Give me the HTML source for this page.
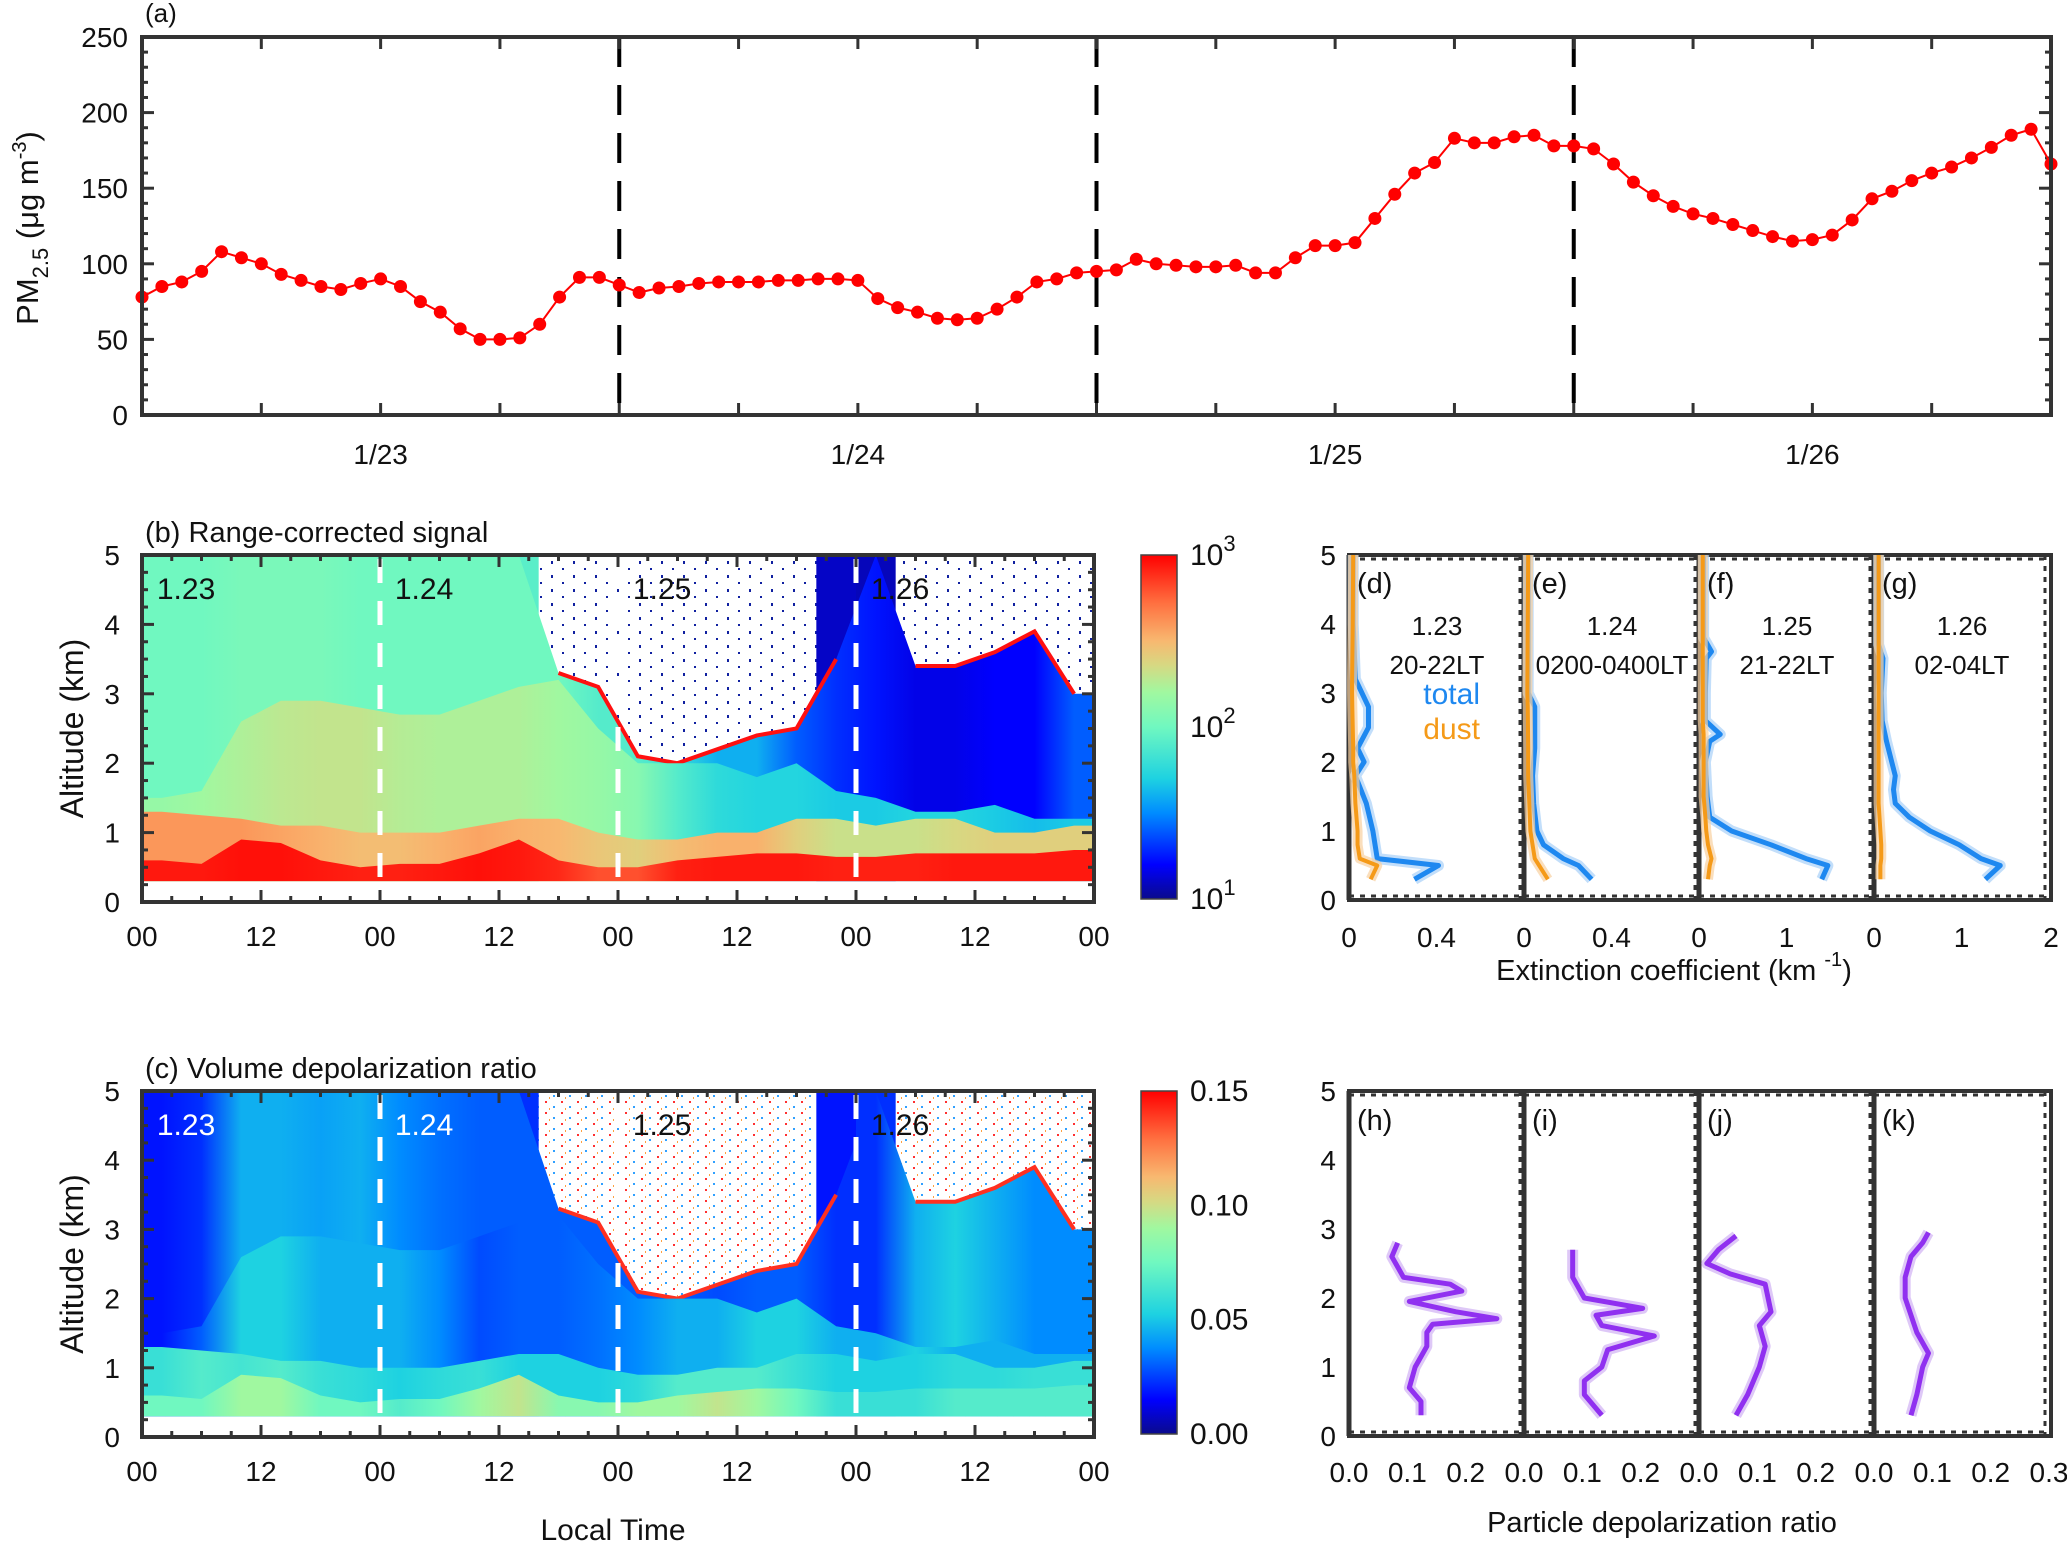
<!DOCTYPE html>
<html><head><meta charset="utf-8">
<style>
html,body{margin:0;padding:0;background:#fff;}
svg{display:block;font-family:"Liberation Sans","DejaVu Sans",sans-serif;}
</style></head>
<body>
<svg id="fig" xmlns="http://www.w3.org/2000/svg" width="2067" height="1544" viewBox="0 0 2067 1544">
<defs>
<pattern id="noiseB" width="22" height="14" patternUnits="userSpaceOnUse">
<rect width="22" height="14" fill="#fff"/>
<rect x="1" y="1" width="2" height="3" fill="#1020a0"/><rect x="12" y="8" width="2" height="2" fill="#1020a0"/>
</pattern>
<pattern id="noiseC" width="16" height="11" patternUnits="userSpaceOnUse">
<rect width="16" height="11" fill="#fff"/>
<rect x="1" y="1" width="2" height="2" fill="#ff3030"/><rect x="9" y="6" width="2" height="2" fill="#30a0ff"/><rect x="5" y="8" width="1" height="2" fill="#ffa040"/>
</pattern>
</defs>
<g id="root"></g>
</svg>
<script>
// ---------------- Panel (a) data ----------------
const pmHours = Array.from({length:97},(_,i)=>i);
const pmValues = [78,85,88,95,108,104,100,93,89,85,83,87,90,85,75,68,57,50,50,51,60,78,91,91,
86,81,84,85,87,88,88,88,89,89,90,90,89,77,71,68,64,63,64,70,78,88,90,94,
95,96,103,100,99,98,98,99,94,94,104,112,112,114,130,146,160,167,183,180,180,184,185,178,
178,176,166,154,145,138,133,130,126,122,118,115,116,119,129,143,148,155,160,164,170,177,185,189,166];
const pmYTicks = [0,50,100,150,200,250];
const dayLabels = ["1/23","1/24","1/25","1/26"];
// ---------------- Panels (b),(c) lidar column data (4-h column centres) ----------------
const colHours = [2,6,10,14,18,22,26,30,34,38,42,46,50,54,58,62,66,70,74,78,82,86,90,94];
const cloudBase = [5,5,5,5,5,5,5,5,5,5,3.3,3.1,2.1,2.0,2.2,2.4,2.5,3.5,5,3.4,3.4,3.6,3.9,3.0];
const aerTop = [1.5,1.6,2.6,2.9,2.9,2.8,2.7,2.7,2.9,3.1,3.2,2.5,2.0,2.0,2.0,1.8,2.0,1.6,1.5,1.3,1.3,1.4,1.2,1.2];
const blTop = [1.3,1.25,1.2,1.1,1.1,1.0,1.0,1.0,1.1,1.2,1.2,1.0,0.9,0.9,1.0,1.0,1.2,1.2,1.1,1.2,1.2,1.0,1.0,1.1];
const redTop = [0.6,0.55,0.9,0.85,0.6,0.5,0.55,0.55,0.7,0.9,0.6,0.5,0.5,0.6,0.65,0.7,0.7,0.65,0.65,0.7,0.7,0.7,0.7,0.75];
// signal (normalised log scale 0..1); -1 = no data (white)
const sigAbove = [0.48,0.48,0.5,0.5,0.48,0.48,0.5,0.5,0.48,0.46,-1,-1,-1,-1,-1,-1,-1,0.05,0.04,-1,-1,-1,-1,-1];
const sigMid = [0.5,0.5,0.52,0.52,0.52,0.5,0.5,0.5,0.5,0.5,0.5,0.45,0.45,0.4,0.3,0.3,0.2,0.15,0.12,0.08,0.08,0.1,0.1,0.2];
const sigAer = [0.58,0.6,0.62,0.64,0.65,0.65,0.63,0.62,0.62,0.62,0.6,0.58,0.55,0.45,0.38,0.36,0.36,0.34,0.34,0.36,0.36,0.34,0.32,0.34];
const sigBl = [0.8,0.8,0.8,0.78,0.76,0.74,0.74,0.76,0.78,0.76,0.75,0.72,0.7,0.74,0.76,0.76,0.7,0.66,0.66,0.66,0.68,0.7,0.7,0.7];
const sigRed = [0.97,0.97,0.98,0.98,0.97,0.96,0.96,0.97,0.98,0.97,0.95,0.9,0.9,0.96,0.97,0.97,0.97,0.96,0.96,0.96,0.97,0.97,0.97,0.97];
// depolarisation (normalised 0..0.15 -> 0..1)
const depAbove = [0.1,0.1,0.12,0.12,0.12,0.12,0.12,0.12,0.14,0.15,-1,-1,-1,-1,-1,-1,-1,0.12,0.15,-1,-1,-1,-1,-1];
const depMid = [0.12,0.15,0.3,0.3,0.28,0.3,0.25,0.22,0.2,0.2,0.2,0.2,0.2,0.2,0.18,0.2,0.2,0.15,0.15,0.3,0.35,0.3,0.25,0.25];
const depAer = [0.12,0.2,0.35,0.35,0.3,0.3,0.3,0.25,0.18,0.2,0.2,0.22,0.25,0.3,0.3,0.35,0.35,0.3,0.3,0.35,0.3,0.3,0.3,0.3];
const depBl = [0.4,0.45,0.42,0.45,0.4,0.38,0.35,0.38,0.4,0.35,0.35,0.35,0.38,0.45,0.45,0.45,0.4,0.35,0.35,0.35,0.38,0.38,0.4,0.4];
const depRed = [0.5,0.5,0.6,0.6,0.5,0.5,0.45,0.5,0.6,0.65,0.55,0.55,0.6,0.6,0.65,0.6,0.5,0.4,0.4,0.4,0.45,0.45,0.45,0.45];
const timeTickLabels = ["00","12","00","12","00","12","00","12","00"];
const dayTags = ["1.23","1.24","1.25","1.26"];
// ---------------- Extinction profiles ----------------
const extAltD = [0.3,0.5,0.6,0.8,1.0,1.4,1.8,2.0,2.2,2.5,2.8,3.0,3.2,4.0,5.0];
const extTotD = [0.29,0.40,0.12,0.11,0.10,0.07,0.02,0.06,0.03,0.08,0.08,0.05,0.02,0.01,0.01];
const extDustD = [0.09,0.12,0.04,0.03,0.03,0.02,0.015,0.01,0.01,0.008,0.006,0.005,0.005,0.008,0.01];
const extAltE = [0.3,0.5,0.6,0.8,1.0,1.4,1.8,2.2,2.8,3.0,4.0,5.0];
const extTotE = [0.30,0.24,0.17,0.08,0.05,0.035,0.03,0.04,0.04,0.01,0.01,0.01];
const extDustE = [0.10,0.06,0.04,0.03,0.02,0.015,0.01,0.01,0.008,0.006,0.008,0.01];
const extAltF = [0.3,0.5,0.6,0.8,1.0,1.2,1.5,2.0,2.3,2.4,2.6,3.0,3.5,3.6,3.8,5.0];
const extTotF = [1.38,1.45,1.2,0.8,0.35,0.1,0.07,0.05,0.1,0.22,0.05,0.05,0.06,0.12,0.03,0.03];
const extDustF = [0.08,0.1,0.12,0.08,0.06,0.05,0.03,0.03,0.03,0.03,0.02,0.02,0.02,0.02,0.02,0.02];
const extAltG = [0.3,0.5,0.6,0.8,1.0,1.2,1.4,1.6,1.8,2.0,2.3,2.6,3.0,3.5,3.7,5.0];
const extTotG = [1.25,1.42,1.2,0.95,0.62,0.38,0.22,0.2,0.22,0.18,0.12,0.07,0.06,0.08,0.03,0.03];
const extDustG = [0.05,0.05,0.06,0.06,0.05,0.04,0.03,0.03,0.03,0.03,0.03,0.03,0.03,0.03,0.03,0.03];
const extMax = [0.8,0.8,2,2];
// ---------------- Depolarisation profiles ----------------
const pdAltH = [0.3,0.5,0.7,1.0,1.3,1.5,1.62,1.7,1.8,1.95,2.1,2.2,2.3,2.6,2.8];
const pdValH = [0.12,0.12,0.10,0.11,0.13,0.13,0.14,0.25,0.18,0.10,0.19,0.17,0.09,0.07,0.08];
const pdAltI = [0.3,0.6,0.8,1.0,1.25,1.45,1.6,1.75,1.85,2.0,2.3,2.7];
const pdValI = [0.13,0.10,0.10,0.13,0.14,0.22,0.13,0.12,0.20,0.10,0.08,0.08];
const pdAltJ = [0.3,0.6,1.0,1.3,1.6,1.8,2.2,2.35,2.5,2.7,2.9];
const pdValJ = [0.06,0.08,0.10,0.11,0.10,0.12,0.11,0.05,0.01,0.03,0.06];
const pdAltK = [0.3,0.6,1.0,1.2,1.5,2.0,2.3,2.6,2.8,2.95];
const pdValK = [0.06,0.07,0.08,0.09,0.07,0.05,0.05,0.06,0.08,0.09];
const pdMax = 0.3;

// ---------------- helpers ----------------
const NS="http://www.w3.org/2000/svg";
const root=document.getElementById('root');
const defs=document.querySelector('defs');
function mk(tag,attrs,parent){const e=document.createElementNS(NS,tag);for(const k in attrs)e.setAttribute(k,attrs[k]);(parent||root).appendChild(e);return e;}
function txt(s,x,y,size,anchor,parent,extra){const t=mk('text',Object.assign({x:x,y:y,'font-size':size,'text-anchor':anchor||'middle',fill:'#111'},extra||{}),parent);t.textContent=s;return t;}
const cmapStops=[[0,[10,10,140]],[0.1,[0,0,255]],[0.25,[0,140,255]],[0.35,[30,210,225]],[0.5,[112,248,192]],[0.6,[160,248,160]],[0.68,[215,216,130]],[0.75,[248,184,112]],[0.86,[255,112,64]],[1,[255,0,0]]];
function cmap(v){v=Math.max(0,Math.min(1,v));for(let i=1;i<cmapStops.length;i++){if(v<=cmapStops[i][0]){const a=cmapStops[i-1],b=cmapStops[i];const f=(v-a[0])/(b[0]-a[0]);const c=a[1].map((x,j)=>Math.round(x+(b[1][j]-x)*f));return 'rgb('+c.join(',')+')';}}return 'rgb(255,0,0)';}
let gid=0;
function hGrad(vals,x0,x1,xs){const id='g'+(gid++);const g=mk('linearGradient',{id:id,gradientUnits:'userSpaceOnUse',x1:x0,y1:0,x2:x1,y2:0},defs);
 vals.forEach((v,i)=>{const off=(xs(colHours[i])-x0)/(x1-x0);mk('stop',{offset:off,'stop-color':v<0?'#ffffff':cmap(v)},g);});return 'url(#'+id+')';}

// ---------------- Panel (a) ----------------
(function(){
 const X0=142,X1=2051,Y0=37,Y1=415;
 const xa=h=>X0+h/96*(X1-X0), ya=v=>Y1-v/250*(Y1-Y0);
 const g=mk('g',{});
 
 
 txt('(a)',145,22,26,'start',g);
 for(let d=1;d<4;d++){const l=mk('line',{x1:xa(24*d),x2:xa(24*d),y1:Y0,y2:Y1,stroke:'#000','stroke-width':4,'stroke-dasharray':'30,18'},g);
  }
 for(let h=6;h<96;h+=6){mk('line',{x1:xa(h),x2:xa(h),y1:Y0,y2:Y0+12,stroke:'#333','stroke-width':3},g);mk('line',{x1:xa(h),x2:xa(h),y1:Y1,y2:Y1-12,stroke:'#333','stroke-width':3},g);}
 for(let v=0;v<=250;v+=10){const L=v%50===0?12:6;mk('line',{x1:X0,x2:X0+L,y1:ya(v),y2:ya(v),stroke:'#333','stroke-width':3},g);mk('line',{x1:X1,x2:X1-L,y1:ya(v),y2:ya(v),stroke:'#333','stroke-width':3},g);}
 pmYTicks.forEach(v=>{const t=txt(String(v),128,ya(v)+10,28,'end',g);});
 dayLabels.forEach((s,i)=>{const t=txt(s,xa(24*i+12),464,28,'middle',g);});
 const yl=mk('text',{x:0,y:0,'font-size':31,'text-anchor':'middle',fill:'#111',transform:'translate(38,228) rotate(-90)'},g);
 
 yl.innerHTML='PM<tspan font-size="22" dy="10">2.5</tspan><tspan dy="-10"> (μg m</tspan><tspan font-size="20" dy="-12">-3</tspan><tspan dy="12">)</tspan>';
 const line=mk('polyline',{points:pmValues.map((v,i)=>xa(pmHours[i])+','+ya(v)).join(' '),fill:'none',stroke:'#ff0000','stroke-width':2},g);
 
 pmValues.forEach((v,i)=>{const c=mk('circle',{cx:xa(pmHours[i]),cy:ya(v),r:6.5,fill:'#ff0000'},g);
  });
 const fr=mk('rect',{x:X0,y:Y0,width:X1-X0,height:Y1-Y0,fill:'none',stroke:'#333','stroke-width':4},g);
 
})();

// ---------------- Panels (b),(c) ----------------
function lidarPanel(Y0,Y1,title,above,mid,aerV,bl,red,noiseId,lineCol,tagColors,cbLabels,showXTitle,nameBase){
 const X0=142,X1=1094;
 const xs=h=>X0+h/96*(X1-X0), ys=z=>Y1-z/5*(Y1-Y0);
 const g=mk('g',{});
 
 
 function area(tops,fill,name){const pts=[[X0,ys(0.3)]];pts.push([X0,ys(tops[0])]);tops.forEach((z,i)=>pts.push([xs(colHours[i]),ys(z)]));pts.push([X1,ys(tops[tops.length-1])]);pts.push([X1,ys(0.3)]);
  const p=mk('polygon',{points:pts.map(p=>p.join(',')).join(' '),fill:fill},g);return p;}
 const bg=mk('rect',{x:X0,y:ys(5),width:X1-X0,height:ys(0.3)-ys(5),fill:'url(#'+noiseId+')'},g);
 
 above.forEach((v,i)=>{if(v<0)return;const xa0=i===0?X0:(xs(colHours[i-1])+xs(colHours[i]))/2;const xa1=i===above.length-1?X1:(xs(colHours[i])+xs(colHours[i+1]))/2;
  const r=mk('rect',{x:xa0,y:ys(5),width:xa1-xa0,height:ys(0.3)-ys(5),fill:cmap(v)},g);});
 area(cloudBase,hGrad(mid,X0,X1,xs),'below-cloud-layer');
 let seg=[];const segs=[];cloudBase.forEach((z,i)=>{if(z<5){seg.push(xs(colHours[i])+','+ys(z));}else{if(seg.length)segs.push(seg);seg=[];}});if(seg.length)segs.push(seg);
 segs.forEach(s=>{const l=mk('polyline',{points:s.join(' '),fill:'none',stroke:lineCol,'stroke-width':4},g);});
 area(aerTop,hGrad(aerV,X0,X1,xs),'aerosol-layer');
 area(blTop,hGrad(bl,X0,X1,xs),'boundary-layer');
 area(redTop,hGrad(red,X0,X1,xs),'surface-layer');
 for(let d=1;d<4;d++){const l=mk('line',{x1:xs(24*d),x2:xs(24*d),y1:Y0+4,y2:Y1,stroke:'#fff','stroke-width':5,'stroke-dasharray':'24,18'},g);}
 dayTags.forEach((s,i)=>{const t=txt(s,xs(24*i+1.5),Y0+44,30,'start',g,{fill:tagColors[i]});});
 for(let h=0;h<=96;h+=3){const L=h%12===0?12:6;mk('line',{x1:xs(h),x2:xs(h),y1:Y1,y2:Y1-L,stroke:'#333','stroke-width':3},g);mk('line',{x1:xs(h),x2:xs(h),y1:Y0,y2:Y0+L,stroke:'#333','stroke-width':3},g);}
 for(let z=0;z<=5.001;z+=0.25){const L=Math.abs(z-Math.round(z))<1e-6?12:6;mk('line',{x1:X0,x2:X0+L,y1:ys(z),y2:ys(z),stroke:'#333','stroke-width':3},g);mk('line',{x1:X1,x2:X1-L,y1:ys(z),y2:ys(z),stroke:'#333','stroke-width':3},g);}
 for(let z=0;z<=5;z++){const t=txt(String(z),120,ys(z)+10,28,'end',g);}
 timeTickLabels.forEach((s,i)=>{const t=txt(s,xs(i*12),Y1+44,28,'middle',g);});
 const yt=txt('Altitude (km)',0,0,32,'middle',g,{transform:'translate(83,'+((Y0+Y1)/2)+') rotate(-90)'});
 const tt=txt(title,145,Y0-13,29,'start',g);
 if(showXTitle){const xt=txt('Local Time',613,1540,30,'middle',g);}
 const fr=mk('rect',{x:X0,y:Y0,width:X1-X0,height:Y1-Y0,fill:'none',stroke:'#333','stroke-width':4},g);
 const cid='cb'+nameBase;const lg=mk('linearGradient',{id:cid,x1:0,y1:1,x2:0,y2:0},defs);
 cmapStops.forEach(s=>mk('stop',{offset:s[0],'stop-color':'rgb('+s[1].join(',')+')'},lg));
 const cb=mk('rect',{x:1141,y:Y0,width:36,height:Y1-Y0-3,fill:'url(#'+cid+')',stroke:'#444','stroke-width':1.5},g);
 
 cbLabels.forEach((lab,i)=>{const y=Y0+(Y1-Y0-3)*i/(cbLabels.length-1)+10;const t=mk('text',{x:1190,y:y,'font-size':30,fill:'#111'},g);t.innerHTML=lab;});
}
lidarPanel(555,902,'(b) Range-corrected signal',sigAbove,sigMid,sigAer,sigBl,sigRed,'noiseB','#ff1010',['#111','#111','#111','#111'],
 ['10<tspan font-size="22" dy="-14">3</tspan>','10<tspan font-size="22" dy="-14">2</tspan>','10<tspan font-size="22" dy="-14">1</tspan>'],false,'signal');
lidarPanel(1091,1437,'(c) Volume depolarization ratio',depAbove,depMid,depAer,depBl,depRed,'noiseC','#ff3020',['#fff','#fff','#111','#111'],
 ['0.15','0.10','0.05','0.00'],true,'depol');

// ---------------- Profile panels ----------------
const subX=[1349,1524,1699,1874];const subW=175;
function profileFrame(Y0,Y1,name){
 const g=mk('g',{});
 const ys=z=>Y1-z/5*(Y1-Y0);
 mk('rect',{x:1349,y:Y0,width:2051-1349,height:Y1-Y0,fill:'none',stroke:'#333','stroke-width':4},g);
 subX.forEach((x,i)=>{mk('line',{x1:x,x2:x,y1:Y0,y2:Y1,stroke:'#333','stroke-width':5},g);
  mk('line',{x1:x+subW-4,x2:x+subW-4,y1:Y0,y2:Y1,stroke:'#333','stroke-width':3,'stroke-dasharray':'5,6'},g);
  mk('line',{x1:x,x2:x+subW,y1:Y0+4,y2:Y0+4,stroke:'#333','stroke-width':3,'stroke-dasharray':'5,6'},g);
  mk('line',{x1:x,x2:x+subW,y1:Y1-4,y2:Y1-4,stroke:'#333','stroke-width':3,'stroke-dasharray':'5,6'},g);});
 for(let z=0;z<=5;z++){const t=txt(String(z),1336,ys(z)+10,28,'end',g);}
 return {g:g,ys:ys};
}
function drawProfile(g,ys,x0,max,alts,vals,color,band,w,name){
 const pts=alts.map((z,i)=>(x0+vals[i]/max*subW)+','+ys(z)).join(' ');
 const b=mk('polyline',{points:pts,fill:'none',stroke:band,'stroke-width':w+6,'stroke-linejoin':'round',opacity:0.7},g);
 
 const l=mk('polyline',{points:pts,fill:'none',stroke:color,'stroke-width':w,'stroke-linejoin':'round'},g);
 
}
(function(){
 const f=profileFrame(555,900,'extinction-panels');const g=f.g,ys=f.ys;
 const tots=[[extAltD,extTotD,extDustD],[extAltE,extTotE,extDustE],[extAltF,extTotF,extDustF],[extAltG,extTotG,extDustG]];
 tots.forEach((p,i)=>{drawProfile(g,ys,subX[i]+2,extMax[i],p[0],p[1],'#1e88f0','#a8d0f8',5,'total-extinction-profile');
  drawProfile(g,ys,subX[i]+2,extMax[i],p[0],p[2],'#f59a18','#f8d0a0',4,'dust-extinction-profile');});
 const labs=['(d)','(e)','(f)','(g)'],dates=['1.23','1.24','1.25','1.26'],times=['20-22LT','0200-0400LT','21-22LT','02-04LT'];
 labs.forEach((s,i)=>{let t=txt(s,subX[i]+8,593,29,'start',g);
  t=txt(dates[i],subX[i]+88,635,26,'middle',g);
  t=txt(times[i],subX[i]+88,674,26,'middle',g);});
 let t=txt('total',1480,704,30,'end',g,{fill:'#1e88f0'});
 t=txt('dust',1480,739,30,'end',g,{fill:'#f59a18'});
 const xl=[[0,'0'],[0.4,'0.4']],xl2=[[0,'0'],[1,'1']];
 [xl,xl,xl2,xl2].forEach((arr,i)=>arr.forEach(a=>{const tt=txt(a[1],subX[i]+a[0]/extMax[i]*subW,947,28,'middle',g);}));
 t=txt('2',2051,947,28,'middle',g);
 t=mk('text',{x:1674,y:980,'font-size':29,'text-anchor':'middle',fill:'#111'},g);t.innerHTML='Extinction coefficient (km <tspan font-size="20" dy="-14">-1</tspan><tspan dy="14">)</tspan>';
 
})();
(function(){
 const f=profileFrame(1091,1436,'depolarization-panels');const g=f.g,ys=f.ys;
 const ps=[[pdAltH,pdValH],[pdAltI,pdValI],[pdAltJ,pdValJ],[pdAltK,pdValK]];
 ps.forEach((p,i)=>drawProfile(g,ys,subX[i]+2,pdMax,p[0],p[1],'#9030f0','#d0b0f4',5,'particle-depol-profile'));
 ['(h)','(i)','(j)','(k)'].forEach((s,i)=>{const t=txt(s,subX[i]+8,1130,29,'start',g);});
 const tl=['0.0','0.1','0.2'];
 subX.forEach(x=>tl.forEach((s,j)=>{const t=txt(s,x+j*0.1/pdMax*subW,1482,28,'middle',g);}));
 let t=txt('0.3',2049,1482,28,'middle',g);
 t=txt('Particle depolarization ratio',1662,1532,29,'middle',g);
})();
</script>
</body></html>
